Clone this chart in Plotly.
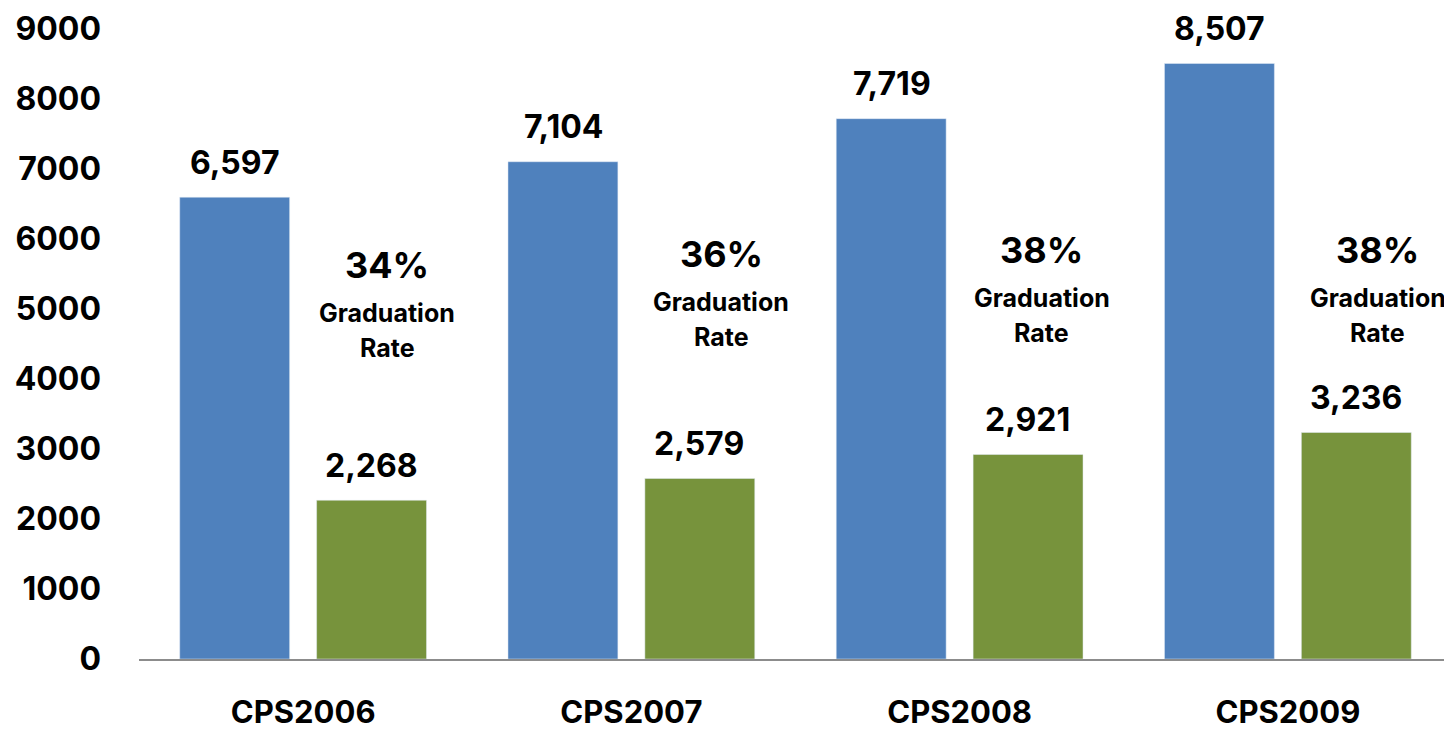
import plotly.graph_objects as go

categories = ["CPS2006", "CPS2007", "CPS2008", "CPS2009"]
enrolled = [6597, 7104, 7719, 8507]
graduated = [2268, 2579, 2921, 3236]
grad_rates = ["34%", "36%", "38%", "38%"]
y_ticks = [0, 1000, 2000, 3000, 4000, 5000, 6000, 7000, 8000, 9000]

BLUE = "#4F81BD"
GREEN = "#77933C"
FONT = "Inter"

# where the rate callouts sit (value on y axis, pixel shift from category centre)
rate_y = [5633, 5790, 5846, 5846]
rate_shift = [84, 90, 82, 90]
BAR_OFFSET = 68  # px from category centre to each bar centre

fig = go.Figure()
fig.add_trace(go.Bar(x=categories, y=enrolled, marker_color=BLUE))
fig.add_trace(go.Bar(x=categories, y=graduated, marker_color=GREEN))

label_font = dict(size=32, family=FONT, weight="bold", color="black")
for series, dx in ((enrolled, -BAR_OFFSET), (graduated, BAR_OFFSET)):
    for cat, v in zip(categories, series):
        fig.add_annotation(x=cat, y=v, xshift=dx, yshift=35, yanchor="middle",
                           text=f"{v:,}", showarrow=False, font=label_font)

for cat, rate, yv, dx in zip(categories, grad_rates, rate_y, rate_shift):
    fig.add_annotation(x=cat, y=yv, xshift=dx, text=rate, showarrow=False,
                       font=dict(size=36, family=FONT, weight="bold", color="black"))
    fig.add_annotation(x=cat, y=yv, xshift=dx, yshift=-48, text="Graduation",
                       showarrow=False,
                       font=dict(size=25, family=FONT, weight="bold", color="black"))
    fig.add_annotation(x=cat, y=yv, xshift=dx, yshift=-83, text="Rate",
                       showarrow=False,
                       font=dict(size=25, family=FONT, weight="bold", color="black"))

# the page body adds an 8px margin, so the figure is sized to fit inside it
fig.update_layout(
    width=1444, height=723,
    margin=dict(l=131, r=0, t=21, b=72),
    plot_bgcolor="white", paper_bgcolor="white",
    barmode="group", bargap=0.166, bargroupgap=0.197,
    showlegend=False,
    font=dict(family=FONT, color="black"),
)
fig.update_xaxes(showline=True, linecolor="#8C8C8C", linewidth=2, showgrid=False,
                 ticks="", ticklabelstandoff=25, automargin=False,
                 tickfont=dict(size=31, family=FONT, weight="bold"))
fig.update_yaxes(range=[0, 9000], tickvals=y_ticks, showgrid=False, zeroline=False,
                 showline=False, ticks="", ticklabelstandoff=37, automargin=False,
                 tickfont=dict(size=32, family=FONT, weight="bold"))

fig.write_html("out.html")
